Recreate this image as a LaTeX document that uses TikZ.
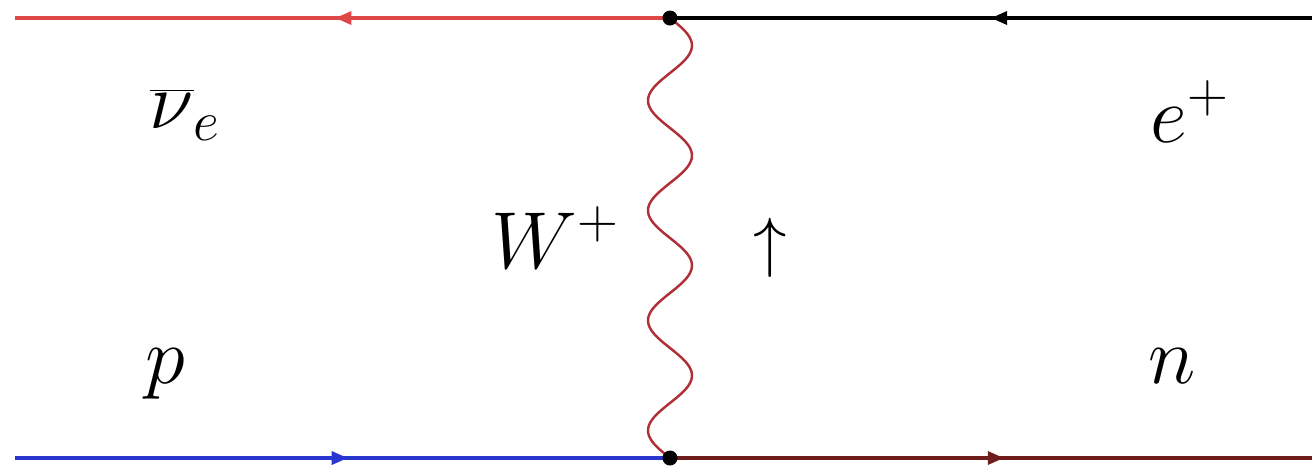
\documentclass[tikz,border=0pt]{standalone}
\usepackage{fix-cm}
\usetikzlibrary{arrows.meta,decorations.markings}
\definecolor{nured}{HTML}{E04848}
\definecolor{wred}{HTML}{B03038}
\definecolor{pblue}{HTML}{2A36D0}
\definecolor{nbrown}{HTML}{6E1C1C}
\tikzset{
  fermion/.style={line width=1.8pt, postaction=decorate,
    decoration={markings, mark=at position #1 with {\arrow{Triangle[length=0.32cm,width=0.26cm]}}}},
  vertexdot/.style={circle, fill=black, inner sep=0pt, minimum size=0.3cm},
  lbl/.style={font=\fontsize{46}{52}\selectfont, anchor=base, inner sep=0pt},
}
\begin{document}
\begin{tikzpicture}[x=0.02cm,y=-0.02cm]
\useasboundingbox (0,0) rectangle (1312,468);
\coordinate (a) at (15,18);
\coordinate (b) at (1312,18);
\coordinate (c) at (15,458);
\coordinate (d) at (1312,458);
\coordinate (v1) at (670,18);
\coordinate (v2) at (670,458);
\draw[fermion=0.511, nured] (v1) -- (a);
\draw[fermion=0.50, black] (b) -- (v1);
\draw[fermion=0.508, pblue] (c) -- (v2);
\draw[fermion=0.52, nbrown] (v2) -- (d);
\draw[wred, line width=1.4pt] plot[smooth, samples=160, domain=18:458] ({670+22*sin(3.272727*(\x-18))}, \x);
\node[vertexdot] (n1) at (v1) {};
\node[vertexdot] (n2) at (v2) {};
\node[lbl] (nu) at (185,128) {$\overline{\nu}_e$};
\node[lbl] (ep) at (1190,142) {$e^+$};
\node[lbl] (w) at (555,268) {$W^+$};
\node[lbl, font=\fontsize{38}{44}\selectfont] (up) at (770,264) {$\uparrow$};
\node[lbl] (p) at (165,383) {$p$};
\node[lbl] (n) at (1172,383) {$n$};
\end{tikzpicture}
\end{document}
